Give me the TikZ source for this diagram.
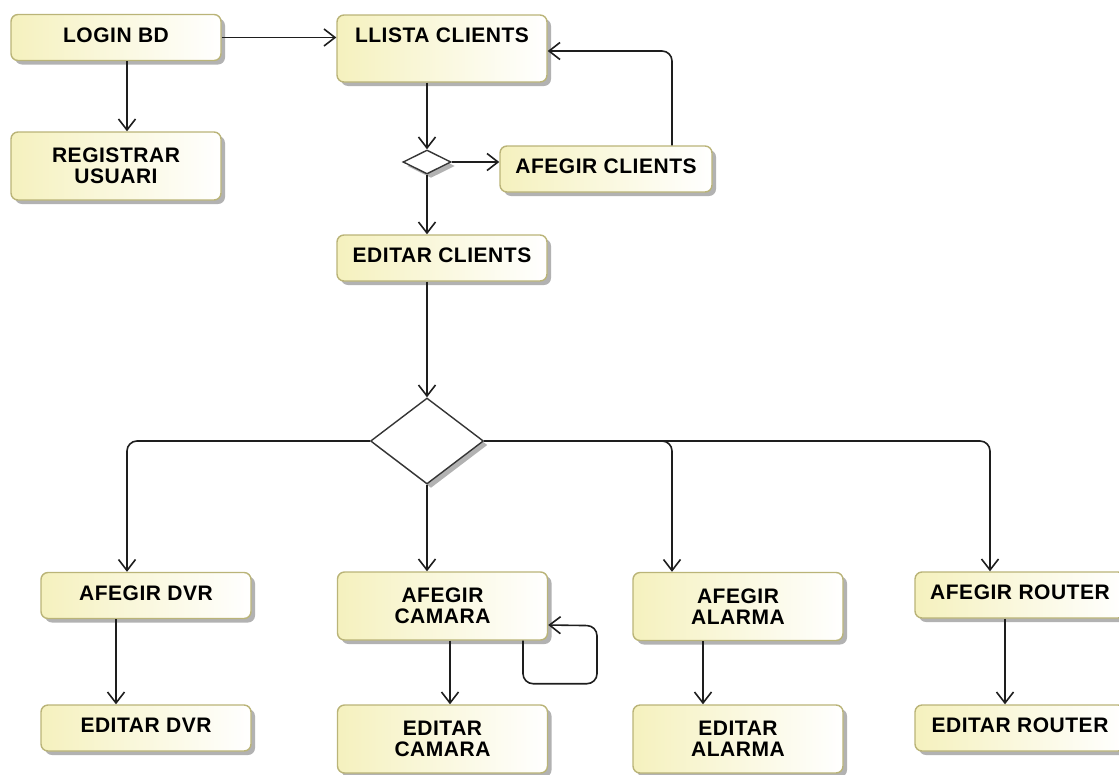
\documentclass[tikz,border=0pt]{standalone}
\usepackage{fontspec}
\setmainfont{Liberation Sans}
\newfontfamily\boxfont[LetterSpace=2.5]{Liberation Sans}
\usetikzlibrary{arrows.meta,shapes.geometric,shadows}
\definecolor{boxfill}{RGB}{245,241,190}
\definecolor{boxline}{RGB}{186,180,120}
\definecolor{shad}{RGB}{178,178,178}
\definecolor{ink}{RGB}{30,30,30}
\begin{document}
\begin{tikzpicture}[x=1pt,y=-1pt,
  box/.style={draw=boxline, line width=1.4pt, rounded corners=7pt,
    left color=boxfill, right color=white,
    drop shadow={shadow xshift=4pt,shadow yshift=-4pt,fill=shad,opacity=1},
    inner sep=0pt, minimum width=210pt, align=center,
    font=\boxfont\fontsize{21}{20.5}\selectfont\bfseries},
  short/.style={minimum height=46pt, text depth=5pt},
  tall/.style={minimum height=68pt},
  dec/.style={diamond, draw=ink!90, line width=1.4pt, fill=white, inner sep=0pt,
    drop shadow={shadow xshift=4pt,shadow yshift=-4pt,fill=shad,opacity=1}},
  arr/.style={draw=ink, line width=1.6pt,
    -{Straight Barb[length=11pt,width=17pt]}, rounded corners=10pt}]
\useasboundingbox (0,0) rectangle (1119,774);

% nodes
\node[box,short] (login) at (116,37.5) {LOGIN BD};
\node[box,tall] (reg) at (116,166) {REGISTRAR\\USUARI};
\node[box,minimum height=67pt,text height=15pt,text depth=28pt] (llista) at (442,48.5) {LLISTA CLIENTS};
\node[dec,minimum width=48pt,minimum height=24pt] (d1) at (427,162) {};
\node[box,short,minimum width=212pt] (afc) at (606,169) {AFEGIR CLIENTS};
\node[box,short] (edc) at (442,258) {EDITAR CLIENTS};
\node[dec,minimum width=113pt,minimum height=86pt] (d2) at (427,441) {};

\node[box,short] (adv) at (146,595.5) {AFEGIR DVR};
\node[box,tall] (acam) at (442.5,606) {AFEGIR\\CAMARA};
\node[box,tall] (aal) at (738,606.5) {AFEGIR\\ALARMA};
\node[box,short] (arou) at (1020,595) {AFEGIR ROUTER};

\node[box,short] (edv) at (146,728) {EDITAR DVR};
\node[box,tall] (ecam) at (442.5,739) {EDITAR\\CAMARA};
\node[box,tall] (eal) at (738,739) {EDITAR\\ALARMA};
\node[box,short] (erou) at (1020,728) {EDITAR ROUTER};

% connectors
\draw[arr] (login.east) -- (llista.west |- login.east);
\draw[arr] ([xshift=11pt]login.south) -- ([xshift=11pt]reg.north);
\draw[arr] (llista.south -| d1.north) -- (d1.north);
\draw[arr] (d1.east) -- (d1.east -| afc.west);
\draw[arr] ([xshift=66pt]afc.north) |- ([yshift=-2.5pt]llista.east);
\draw[arr] (d1.south) -- (d1.south |- edc.north);
\draw[arr] (edc.south -| d2.north) -- (d2.north);

\draw[arr] (d2.west) -| ([xshift=-19pt]adv.north);
\draw[arr] (d2.south) -- (d2.south |- acam.north);
\draw[arr] (d2.east) -| ([xshift=-66pt]aal.north);
\draw[arr] (d2.east) -| ([xshift=-30pt]arou.north);

\draw[arr] ([xshift=-30pt]adv.south) -- ([xshift=-30pt]edv.north);
\draw[arr] ([xshift=7.5pt]acam.south) -- ([xshift=7.5pt]ecam.north);
\draw[arr] ([xshift=-35pt]aal.south) -- ([xshift=-35pt]eal.north);
\draw[arr] ([xshift=-15pt]arou.south) -- ([xshift=-15pt]erou.north);

\draw[arr] ([xshift=80.5pt]acam.south) -- ++(0,43) -- ++(74,0) -- ++(0,-58)
  -- ([yshift=-19pt]acam.east);
\end{tikzpicture}
\end{document}
